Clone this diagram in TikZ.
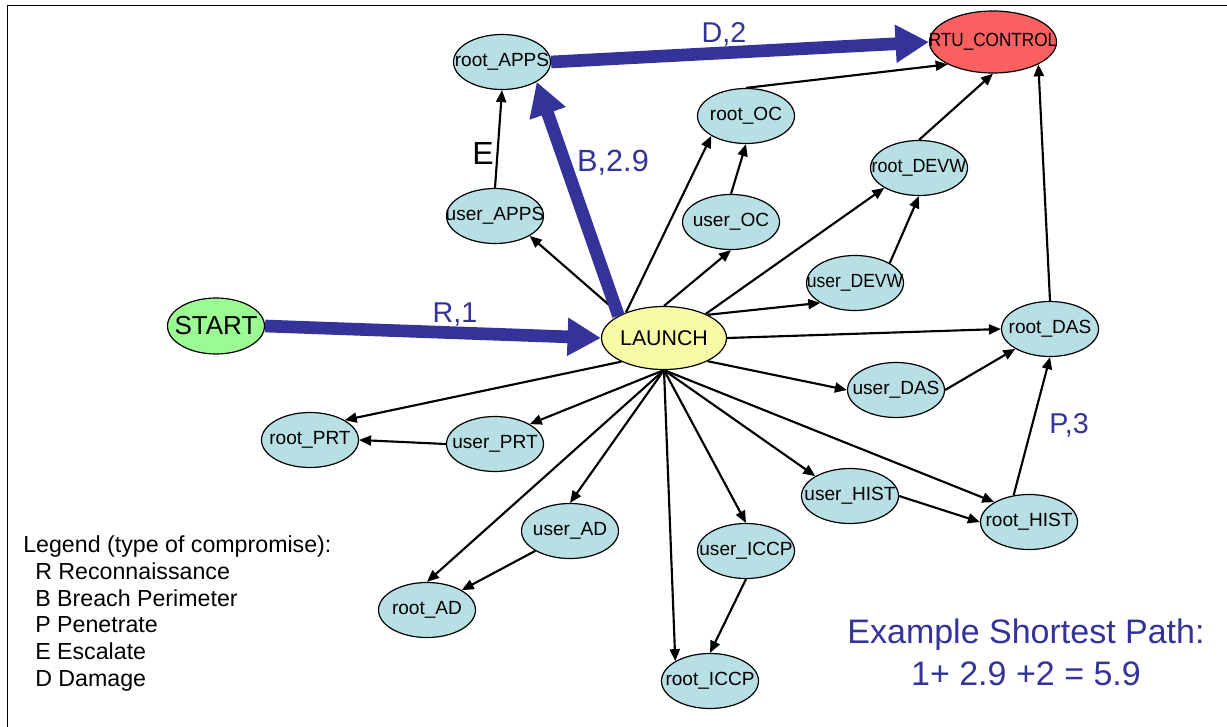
\documentclass[tikz,border=0pt]{standalone}
\usepackage{fontspec}
\setmainfont{Liberation Sans}
\usetikzlibrary{arrows.meta,shapes.geometric}
\definecolor{nodefill}{RGB}{184,224,228}
\definecolor{launchfill}{RGB}{248,250,165}
\definecolor{startfill}{RGB}{155,250,145}
\definecolor{rtufill}{RGB}{250,96,96}
\definecolor{pathblue}{RGB}{51,51,153}
\newcommand{\nt}[1]{\makebox[0pt][c]{#1}}
\begin{document}
\begin{tikzpicture}[x=0.75pt,y=-0.75pt,
  st/.style={ellipse,draw=black,line width=0.9pt,fill=nodefill,inner sep=0pt,
    minimum width=72.75pt,minimum height=41.25pt,font=\fontsize{14.3}{16}\selectfont},
  edge/.style={line width=1.6pt,-{Triangle[length=9pt,width=7.5pt]}},
  bigarrow/.style={draw=pathblue,line width=9.5pt,-{Triangle[length=25pt,width=27pt]}},
  lbl/.style={text=pathblue,font=\fontsize{21.5}{24}\selectfont,anchor=base,inner sep=0pt}]
\useasboundingbox (0,0) rectangle (1227,727);
\fill[white] (0,0) rectangle (1227,727);
\draw[line width=1.2pt] (7.5,727) -- (7.5,5.5) -- (1227,5.5);

% nodes
\node[st,fill=rtufill,minimum width=95.25pt,minimum height=46.5pt] (RTU) at (993,42) {\nt{\scalebox{0.9}[1]{RTU\_CONTROL}}};
\node[st] (rootAPPS) at (502,62) {\nt{root\_APPS}};
\node[st] (rootOC) at (746,116) {\nt{root\_OC}};
\node[st] (rootDEVW) at (919,168) {\nt{\scalebox{0.94}[1]{root\_DEVW}}};
\node[st] (userAPPS) at (495,216) {\nt{user\_APPS}};
\node[st] (userOC) at (731,222) {\nt{user\_OC}};
\node[st] (userDEVW) at (855,283) {\nt{\scalebox{0.92}[1]{user\_DEVW}}};
\node[st,fill=startfill,minimum height=42pt,font=\fontsize{19.5}{22}\selectfont] (START) at (216,326) {\nt{START}};
\node[st,fill=launchfill,minimum width=93.75pt,minimum height=47.25pt,font=\fontsize{16}{18}\selectfont] (LAUNCH) at (664,338) {\nt{LAUNCH}};
\node[st] (rootDAS) at (1050,329) {\nt{root\_DAS}};
\node[st] (userDAS) at (896,390) {\nt{user\_DAS}};
\node[st] (rootPRT) at (310,440) {\nt{root\_PRT}};
\node[st] (userPRT) at (495,444) {\nt{user\_PRT}};
\node[st] (userHIST) at (850,496) {\nt{user\_HIST}};
\node[st] (rootHIST) at (1029,522) {\nt{root\_HIST}};
\node[st] (userAD) at (570,531) {\nt{user\_AD}};
\node[st] (userICCP) at (746,551) {\nt{user\_ICCP}};
\node[st] (rootAD) at (427,610) {\nt{root\_AD}};
\node[st] (rootICCP) at (710,681) {\nt{root\_ICCP}};

% black edges
\draw[edge] (userAPPS.north) -- (rootAPPS.south);
\draw[edge] (LAUNCH.152) -- (userAPPS.south east);
\draw[edge] (LAUNCH.146) -- (rootOC.south west);
\draw[edge] (LAUNCH.north) -- (userOC.south);
\draw[edge] (userOC.north) -- (rootOC.south);
\draw[edge] (LAUNCH.30) -- (rootDEVW.south west);
\draw[edge] (LAUNCH.28) -- (userDEVW.south west);
\draw[edge] (userDEVW.north east) -- (rootDEVW.south);
\draw[edge] (rootOC.north) -- (RTU.south west);
\draw[edge] (rootDEVW.north) -- (RTU.south);
\draw[edge] (rootDAS.north) -- (RTU.south east);
\draw[edge] (LAUNCH.east) -- (rootDAS.west);
\draw[edge] (LAUNCH.-28) -- (userDAS.west);
\draw[edge] (userDAS.east) -- (rootDAS.south west);
\draw[edge] (rootHIST.120) -- (rootDAS.south);
\draw[edge] (userHIST.east) -- (rootHIST.west);
\draw[edge] (LAUNCH.south) -- (userHIST.north west);
\draw[edge] (LAUNCH.south) -- (rootHIST.north west);
\draw[edge] (LAUNCH.south) -- (userICCP.north);
\draw[edge] (LAUNCH.south) -- (rootICCP.north west);
\draw[edge] (userICCP.south) -- (rootICCP.north);
\draw[edge] (LAUNCH.south) -- (userAD.north);
\draw[edge] (LAUNCH.south) -- (rootAD.north);
\draw[edge] (userAD.south west) -- (rootAD.north east);
\draw[edge] (LAUNCH.209) -- (rootPRT.north east);
\draw[edge] (LAUNCH.south) -- (userPRT.north east);
\draw[edge] (userPRT.west) -- (rootPRT.east);

% shortest path
\draw[bigarrow] (START.east) -- (LAUNCH.west);
\draw[bigarrow] (LAUNCH.154) -- (rootAPPS.south east);
\draw[bigarrow] (rootAPPS.east) -- (RTU.west);

% labels
\node[lbl] (lR) at (455,322) {R,1};
\node[lbl,font=\fontsize{23}{26}\selectfont] (lB) at (613,172) {B,2.9};
\node[lbl] (lD) at (724,43) {D,2};
\node[lbl] (lP) at (1069,433) {P,3};
\node[lbl,text=black,font=\fontsize{24}{26}\selectfont] (lE) at (483,165) {E};

% legend (base anchor = baseline of last line)
\node[anchor=base west,inner sep=0pt,align=left,font=\fontsize{17.4}{20}\selectfont] (legend) at (23,686)
  {Legend (type of compromise):\\
   \hspace*{9pt}R Reconnaissance\\
   \hspace*{9pt}B Breach Perimeter\\
   \hspace*{9pt}P Penetrate\\
   \hspace*{9pt}E Escalate\\
   \hspace*{9pt}D Damage};

% example
\node[anchor=base,inner sep=0pt,align=center,text=pathblue,font=\fontsize{25.5}{31.5}\selectfont] (example) at (1026,685)
  {Example Shortest Path:\\1+ 2.9 +2 = 5.9};
\end{tikzpicture}
\end{document}
